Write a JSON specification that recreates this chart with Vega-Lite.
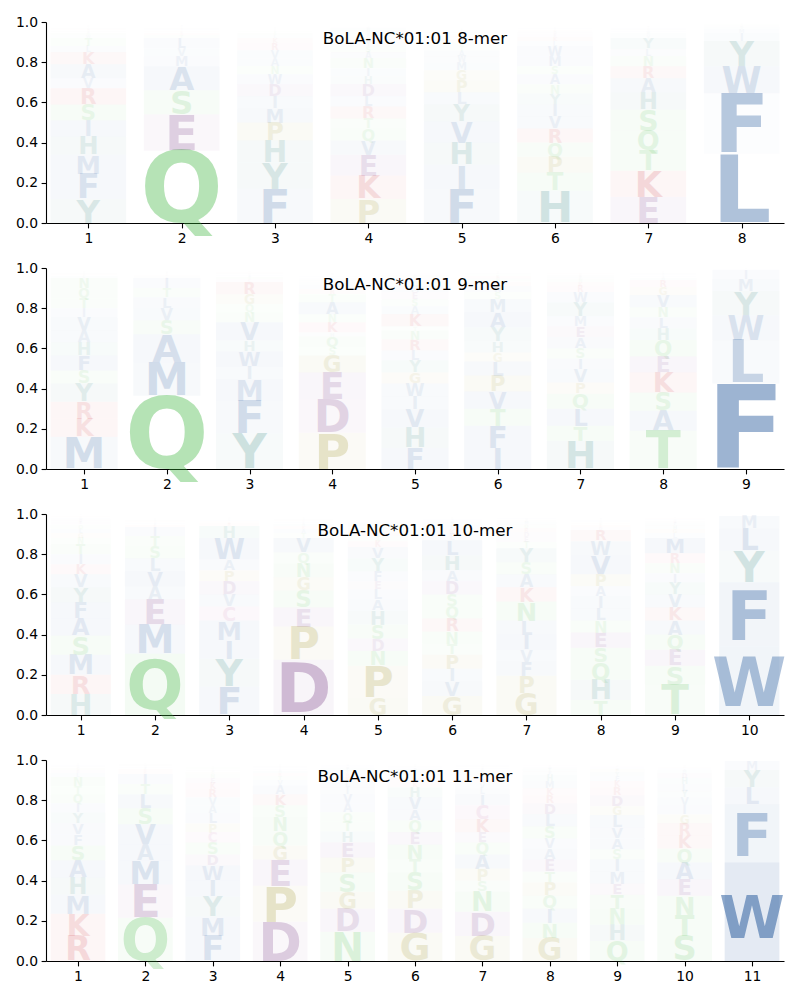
{
"$schema": "https://vega.github.io/schema/vega-lite/v6.json",
"background": "white",
"padding": {"left": 15, "top": 15, "right": 5, "bottom": 3},
"datasets": {"logo": [
{"m":8,"p":1,"a":"Y","f":0.12},{"m":8,"p":1,"a":"F","f":0.125},{"m":8,"p":1,"a":"M","f":0.095},{"m":8,"p":1,"a":"H","f":0.09},{"m":8,"p":1,"a":"I","f":0.08},{"m":8,"p":1,"a":"S","f":0.08},{"m":8,"p":1,"a":"R","f":0.08},{"m":8,"p":1,"a":"V","f":0.05},{"m":8,"p":1,"a":"A","f":0.07},{"m":8,"p":1,"a":"K","f":0.06},{"m":8,"p":1,"a":"L","f":0.03},{"m":8,"p":1,"a":"T","f":0.04},{"m":8,"p":1,"a":"W","f":0.015},{"m":8,"p":1,"a":"N","f":0.012},{"m":8,"p":1,"a":"E","f":0.01},{"m":8,"p":1,"a":"G","f":0.008},{"m":8,"p":1,"a":"D","f":0.007},{"m":8,"p":1,"a":"Q","f":0.005},{"m":8,"p":1,"a":"C","f":0.003},
{"m":8,"p":2,"a":"Q","f":0.36},{"m":8,"p":2,"a":"E","f":0.18},{"m":8,"p":2,"a":"S","f":0.12},{"m":8,"p":2,"a":"A","f":0.12},{"m":8,"p":2,"a":"M","f":0.05},{"m":8,"p":2,"a":"V","f":0.04},{"m":8,"p":2,"a":"L","f":0.05},{"m":8,"p":2,"a":"T","f":0.015},{"m":8,"p":2,"a":"R","f":0.012},{"m":8,"p":2,"a":"K","f":0.01},{"m":8,"p":2,"a":"I","f":0.008},{"m":8,"p":2,"a":"D","f":0.006},{"m":8,"p":2,"a":"H","f":0.005},{"m":8,"p":2,"a":"Y","f":0.004},{"m":8,"p":2,"a":"N","f":0.003},
{"m":8,"p":3,"a":"F","f":0.17},{"m":8,"p":3,"a":"Y","f":0.13},{"m":8,"p":3,"a":"H","f":0.11},{"m":8,"p":3,"a":"P","f":0.09},{"m":8,"p":3,"a":"M","f":0.07},{"m":8,"p":3,"a":"I","f":0.06},{"m":8,"p":3,"a":"D","f":0.06},{"m":8,"p":3,"a":"W","f":0.05},{"m":8,"p":3,"a":"N","f":0.04},{"m":8,"p":3,"a":"A","f":0.04},{"m":8,"p":3,"a":"V","f":0.04},{"m":8,"p":3,"a":"R","f":0.035},{"m":8,"p":3,"a":"K","f":0.025},{"m":8,"p":3,"a":"L","f":0.015},{"m":8,"p":3,"a":"S","f":0.012},{"m":8,"p":3,"a":"T","f":0.01},{"m":8,"p":3,"a":"E","f":0.007},{"m":8,"p":3,"a":"G","f":0.005},{"m":8,"p":3,"a":"Q","f":0.003},
{"m":8,"p":4,"a":"P","f":0.12},{"m":8,"p":4,"a":"K","f":0.115},{"m":8,"p":4,"a":"E","f":0.105},{"m":8,"p":4,"a":"V","f":0.07},{"m":8,"p":4,"a":"Q","f":0.06},{"m":8,"p":4,"a":"T","f":0.05},{"m":8,"p":4,"a":"R","f":0.06},{"m":8,"p":4,"a":"L","f":0.05},{"m":8,"p":4,"a":"D","f":0.06},{"m":8,"p":4,"a":"H","f":0.04},{"m":8,"p":4,"a":"I","f":0.04},{"m":8,"p":4,"a":"N","f":0.05},{"m":8,"p":4,"a":"A","f":0.03},{"m":8,"p":4,"a":"S","f":0.028},{"m":8,"p":4,"a":"Y","f":0.025},{"m":8,"p":4,"a":"G","f":0.022},{"m":8,"p":4,"a":"F","f":0.018},{"m":8,"p":4,"a":"M","f":0.015},{"m":8,"p":4,"a":"W","f":0.012},{"m":8,"p":4,"a":"C","f":0.006},
{"m":8,"p":5,"a":"F","f":0.17},{"m":8,"p":5,"a":"I","f":0.12},{"m":8,"p":5,"a":"H","f":0.11},{"m":8,"p":5,"a":"V","f":0.105},{"m":8,"p":5,"a":"Y","f":0.085},{"m":8,"p":5,"a":"L","f":0.06},{"m":8,"p":5,"a":"P","f":0.06},{"m":8,"p":5,"a":"G","f":0.05},{"m":8,"p":5,"a":"M","f":0.04},{"m":8,"p":5,"a":"W","f":0.03},{"m":8,"p":5,"a":"A","f":0.028},{"m":8,"p":5,"a":"T","f":0.024},{"m":8,"p":5,"a":"S","f":0.02},{"m":8,"p":5,"a":"R","f":0.017},{"m":8,"p":5,"a":"K","f":0.014},{"m":8,"p":5,"a":"N","f":0.011},{"m":8,"p":5,"a":"D","f":0.008},{"m":8,"p":5,"a":"E","f":0.006},{"m":8,"p":5,"a":"Q","f":0.004},{"m":8,"p":5,"a":"C","f":0.003},
{"m":8,"p":6,"a":"H","f":0.16},{"m":8,"p":6,"a":"T","f":0.09},{"m":8,"p":6,"a":"P","f":0.08},{"m":8,"p":6,"a":"Q","f":0.07},{"m":8,"p":6,"a":"R","f":0.07},{"m":8,"p":6,"a":"V","f":0.06},{"m":8,"p":6,"a":"I","f":0.06},{"m":8,"p":6,"a":"Y","f":0.055},{"m":8,"p":6,"a":"N","f":0.045},{"m":8,"p":6,"a":"A","f":0.05},{"m":8,"p":6,"a":"S","f":0.04},{"m":8,"p":6,"a":"M","f":0.05},{"m":8,"p":6,"a":"W","f":0.05},{"m":8,"p":6,"a":"L","f":0.025},{"m":8,"p":6,"a":"K","f":0.02},{"m":8,"p":6,"a":"E","f":0.016},{"m":8,"p":6,"a":"D","f":0.012},{"m":8,"p":6,"a":"G","f":0.01},{"m":8,"p":6,"a":"F","f":0.007},{"m":8,"p":6,"a":"C","f":0.004},
{"m":8,"p":7,"a":"E","f":0.13},{"m":8,"p":7,"a":"K","f":0.13},{"m":8,"p":7,"a":"T","f":0.1},{"m":8,"p":7,"a":"Q","f":0.1},{"m":8,"p":7,"a":"S","f":0.105},{"m":8,"p":7,"a":"H","f":0.085},{"m":8,"p":7,"a":"A","f":0.07},{"m":8,"p":7,"a":"R","f":0.06},{"m":8,"p":7,"a":"N","f":0.05},{"m":8,"p":7,"a":"L","f":0.035},{"m":8,"p":7,"a":"Y","f":0.055},{"m":8,"p":7,"a":"V","f":0.015},{"m":8,"p":7,"a":"M","f":0.012},{"m":8,"p":7,"a":"W","f":0.01},{"m":8,"p":7,"a":"D","f":0.008},{"m":8,"p":7,"a":"I","f":0.006},{"m":8,"p":7,"a":"G","f":0.004},{"m":8,"p":7,"a":"F","f":0.003},
{"m":8,"p":8,"a":"L","f":0.345},{"m":8,"p":8,"a":"F","f":0.3},{"m":8,"p":8,"a":"W","f":0.135},{"m":8,"p":8,"a":"Y","f":0.125},{"m":8,"p":8,"a":"I","f":0.04},{"m":8,"p":8,"a":"M","f":0.02},{"m":8,"p":8,"a":"V","f":0.012},{"m":8,"p":8,"a":"H","f":0.008},{"m":8,"p":8,"a":"T","f":0.005},{"m":8,"p":8,"a":"A","f":0.004},
{"m":9,"p":1,"a":"M","f":0.16},{"m":9,"p":1,"a":"K","f":0.09},{"m":9,"p":1,"a":"R","f":0.085},{"m":9,"p":1,"a":"Y","f":0.09},{"m":9,"p":1,"a":"S","f":0.065},{"m":9,"p":1,"a":"F","f":0.075},{"m":9,"p":1,"a":"H","f":0.065},{"m":9,"p":1,"a":"A","f":0.06},{"m":9,"p":1,"a":"V","f":0.065},{"m":9,"p":1,"a":"I","f":0.045},{"m":9,"p":1,"a":"T","f":0.05},{"m":9,"p":1,"a":"Q","f":0.05},{"m":9,"p":1,"a":"N","f":0.05},{"m":9,"p":1,"a":"L","f":0.012},{"m":9,"p":1,"a":"G","f":0.008},{"m":9,"p":1,"a":"E","f":0.006},{"m":9,"p":1,"a":"D","f":0.004},
{"m":9,"p":2,"a":"Q","f":0.365},{"m":9,"p":2,"a":"M","f":0.165},{"m":9,"p":2,"a":"A","f":0.14},{"m":9,"p":2,"a":"S","f":0.07},{"m":9,"p":2,"a":"V","f":0.06},{"m":9,"p":2,"a":"L","f":0.055},{"m":9,"p":2,"a":"T","f":0.045},{"m":9,"p":2,"a":"I","f":0.05},{"m":9,"p":2,"a":"E","f":0.01},{"m":9,"p":2,"a":"K","f":0.008},{"m":9,"p":2,"a":"R","f":0.006},{"m":9,"p":2,"a":"F","f":0.004},{"m":9,"p":2,"a":"H","f":0.003},
{"m":9,"p":3,"a":"Y","f":0.175},{"m":9,"p":3,"a":"F","f":0.165},{"m":9,"p":3,"a":"M","f":0.105},{"m":9,"p":3,"a":"I","f":0.065},{"m":9,"p":3,"a":"W","f":0.075},{"m":9,"p":3,"a":"H","f":0.055},{"m":9,"p":3,"a":"V","f":0.09},{"m":9,"p":3,"a":"N","f":0.05},{"m":9,"p":3,"a":"Q","f":0.04},{"m":9,"p":3,"a":"G","f":0.05},{"m":9,"p":3,"a":"R","f":0.06},{"m":9,"p":3,"a":"C","f":0.015},{"m":9,"p":3,"a":"S","f":0.012},{"m":9,"p":3,"a":"A","f":0.01},{"m":9,"p":3,"a":"D","f":0.008},{"m":9,"p":3,"a":"K","f":0.005},
{"m":9,"p":4,"a":"P","f":0.18},{"m":9,"p":4,"a":"D","f":0.165},{"m":9,"p":4,"a":"E","f":0.135},{"m":9,"p":4,"a":"G","f":0.085},{"m":9,"p":4,"a":"S","f":0.04},{"m":9,"p":4,"a":"Q","f":0.055},{"m":9,"p":4,"a":"H","f":0.02},{"m":9,"p":4,"a":"K","f":0.05},{"m":9,"p":4,"a":"N","f":0.04},{"m":9,"p":4,"a":"A","f":0.06},{"m":9,"p":4,"a":"T","f":0.04},{"m":9,"p":4,"a":"R","f":0.025},{"m":9,"p":4,"a":"V","f":0.02},{"m":9,"p":4,"a":"L","f":0.016},{"m":9,"p":4,"a":"I","f":0.012},{"m":9,"p":4,"a":"M","f":0.01},{"m":9,"p":4,"a":"F","f":0.008},{"m":9,"p":4,"a":"W","f":0.006},{"m":9,"p":4,"a":"Y","f":0.004},
{"m":9,"p":5,"a":"F","f":0.105},{"m":9,"p":5,"a":"H","f":0.1},{"m":9,"p":5,"a":"V","f":0.09},{"m":9,"p":5,"a":"I","f":0.065},{"m":9,"p":5,"a":"W","f":0.065},{"m":9,"p":5,"a":"G","f":0.055},{"m":9,"p":5,"a":"Y","f":0.06},{"m":9,"p":5,"a":"L","f":0.05},{"m":9,"p":5,"a":"R","f":0.055},{"m":9,"p":5,"a":"N","f":0.045},{"m":9,"p":5,"a":"T","f":0.02},{"m":9,"p":5,"a":"K","f":0.06},{"m":9,"p":5,"a":"A","f":0.04},{"m":9,"p":5,"a":"S","f":0.035},{"m":9,"p":5,"a":"E","f":0.035},{"m":9,"p":5,"a":"M","f":0.03},{"m":9,"p":5,"a":"Q","f":0.025},{"m":9,"p":5,"a":"D","f":0.017},{"m":9,"p":5,"a":"P","f":0.013},{"m":9,"p":5,"a":"C","f":0.01},
{"m":9,"p":6,"a":"I","f":0.105},{"m":9,"p":6,"a":"F","f":0.11},{"m":9,"p":6,"a":"T","f":0.085},{"m":9,"p":6,"a":"V","f":0.085},{"m":9,"p":6,"a":"P","f":0.08},{"m":9,"p":6,"a":"L","f":0.07},{"m":9,"p":6,"a":"G","f":0.045},{"m":9,"p":6,"a":"H","f":0.055},{"m":9,"p":6,"a":"Y","f":0.07},{"m":9,"p":6,"a":"A","f":0.075},{"m":9,"p":6,"a":"M","f":0.065},{"m":9,"p":6,"a":"S","f":0.035},{"m":9,"p":6,"a":"W","f":0.03},{"m":9,"p":6,"a":"R","f":0.022},{"m":9,"p":6,"a":"N","f":0.016},{"m":9,"p":6,"a":"K","f":0.012},{"m":9,"p":6,"a":"Q","f":0.01},{"m":9,"p":6,"a":"E","f":0.008},{"m":9,"p":6,"a":"D","f":0.005},
{"m":9,"p":7,"a":"H","f":0.14},{"m":9,"p":7,"a":"T","f":0.075},{"m":9,"p":7,"a":"L","f":0.085},{"m":9,"p":7,"a":"Q","f":0.075},{"m":9,"p":7,"a":"P","f":0.055},{"m":9,"p":7,"a":"V","f":0.065},{"m":9,"p":7,"a":"I","f":0.055},{"m":9,"p":7,"a":"S","f":0.05},{"m":9,"p":7,"a":"A","f":0.055},{"m":9,"p":7,"a":"E","f":0.055},{"m":9,"p":7,"a":"M","f":0.05},{"m":9,"p":7,"a":"Y","f":0.07},{"m":9,"p":7,"a":"W","f":0.05},{"m":9,"p":7,"a":"R","f":0.03},{"m":9,"p":7,"a":"K","f":0.02},{"m":9,"p":7,"a":"N","f":0.016},{"m":9,"p":7,"a":"F","f":0.012},{"m":9,"p":7,"a":"D","f":0.01},{"m":9,"p":7,"a":"G","f":0.008},
{"m":9,"p":8,"a":"T","f":0.19},{"m":9,"p":8,"a":"A","f":0.1},{"m":9,"p":8,"a":"S","f":0.09},{"m":9,"p":8,"a":"K","f":0.1},{"m":9,"p":8,"a":"E","f":0.08},{"m":9,"p":8,"a":"Q","f":0.08},{"m":9,"p":8,"a":"H","f":0.06},{"m":9,"p":8,"a":"L","f":0.055},{"m":9,"p":8,"a":"N","f":0.05},{"m":9,"p":8,"a":"V","f":0.06},{"m":9,"p":8,"a":"G","f":0.04},{"m":9,"p":8,"a":"R","f":0.035},{"m":9,"p":8,"a":"M","f":0.012},{"m":9,"p":8,"a":"I","f":0.01},{"m":9,"p":8,"a":"F","f":0.008},{"m":9,"p":8,"a":"D","f":0.006},{"m":9,"p":8,"a":"Y","f":0.004},
{"m":9,"p":9,"a":"F","f":0.425},{"m":9,"p":9,"a":"L","f":0.215},{"m":9,"p":9,"a":"W","f":0.125},{"m":9,"p":9,"a":"Y","f":0.12},{"m":9,"p":9,"a":"M","f":0.06},{"m":9,"p":9,"a":"I","f":0.045},{"m":9,"p":9,"a":"V","f":0.005},
{"m":10,"p":1,"a":"H","f":0.105},{"m":10,"p":1,"a":"R","f":0.095},{"m":10,"p":1,"a":"M","f":0.1},{"m":10,"p":1,"a":"S","f":0.095},{"m":10,"p":1,"a":"A","f":0.085},{"m":10,"p":1,"a":"F","f":0.08},{"m":10,"p":1,"a":"Y","f":0.075},{"m":10,"p":1,"a":"V","f":0.065},{"m":10,"p":1,"a":"K","f":0.05},{"m":10,"p":1,"a":"I","f":0.05},{"m":10,"p":1,"a":"T","f":0.05},{"m":10,"p":1,"a":"N","f":0.03},{"m":10,"p":1,"a":"G","f":0.025},{"m":10,"p":1,"a":"L","f":0.022},{"m":10,"p":1,"a":"Q","f":0.02},{"m":10,"p":1,"a":"E","f":0.015},{"m":10,"p":1,"a":"D","f":0.012},{"m":10,"p":1,"a":"W","f":0.01},{"m":10,"p":1,"a":"P","f":0.007},{"m":10,"p":1,"a":"C","f":0.004},
{"m":10,"p":2,"a":"Q","f":0.305},{"m":10,"p":2,"a":"M","f":0.145},{"m":10,"p":2,"a":"E","f":0.125},{"m":10,"p":2,"a":"A","f":0.065},{"m":10,"p":2,"a":"V","f":0.075},{"m":10,"p":2,"a":"L","f":0.065},{"m":10,"p":2,"a":"S","f":0.06},{"m":10,"p":2,"a":"T","f":0.05},{"m":10,"p":2,"a":"I","f":0.045},{"m":10,"p":2,"a":"K","f":0.012},{"m":10,"p":2,"a":"F","f":0.01},{"m":10,"p":2,"a":"R","f":0.008},{"m":10,"p":2,"a":"H","f":0.006},{"m":10,"p":2,"a":"D","f":0.004},
{"m":10,"p":3,"a":"F","f":0.14},{"m":10,"p":3,"a":"Y","f":0.14},{"m":10,"p":3,"a":"I","f":0.095},{"m":10,"p":3,"a":"M","f":0.095},{"m":10,"p":3,"a":"C","f":0.07},{"m":10,"p":3,"a":"V","f":0.06},{"m":10,"p":3,"a":"D","f":0.065},{"m":10,"p":3,"a":"P","f":0.055},{"m":10,"p":3,"a":"A","f":0.055},{"m":10,"p":3,"a":"W","f":0.105},{"m":10,"p":3,"a":"H","f":0.06},{"m":10,"p":3,"a":"R","f":0.015},{"m":10,"p":3,"a":"K","f":0.01},{"m":10,"p":3,"a":"L","f":0.008},{"m":10,"p":3,"a":"E","f":0.005},{"m":10,"p":3,"a":"S","f":0.003},
{"m":10,"p":4,"a":"D","f":0.275},{"m":10,"p":4,"a":"P","f":0.165},{"m":10,"p":4,"a":"E","f":0.095},{"m":10,"p":4,"a":"S","f":0.085},{"m":10,"p":4,"a":"G","f":0.065},{"m":10,"p":4,"a":"N","f":0.07},{"m":10,"p":4,"a":"Q","f":0.055},{"m":10,"p":4,"a":"V","f":0.07},{"m":10,"p":4,"a":"T","f":0.025},{"m":10,"p":4,"a":"A","f":0.02},{"m":10,"p":4,"a":"K","f":0.015},{"m":10,"p":4,"a":"H","f":0.012},{"m":10,"p":4,"a":"L","f":0.01},{"m":10,"p":4,"a":"R","f":0.008},{"m":10,"p":4,"a":"Y","f":0.006},{"m":10,"p":4,"a":"I","f":0.004},
{"m":10,"p":5,"a":"G","f":0.085},{"m":10,"p":5,"a":"P","f":0.16},{"m":10,"p":5,"a":"N","f":0.075},{"m":10,"p":5,"a":"D","f":0.06},{"m":10,"p":5,"a":"S","f":0.07},{"m":10,"p":5,"a":"H","f":0.07},{"m":10,"p":5,"a":"A","f":0.055},{"m":10,"p":5,"a":"L","f":0.05},{"m":10,"p":5,"a":"E","f":0.04},{"m":10,"p":5,"a":"F","f":0.05},{"m":10,"p":5,"a":"Y","f":0.065},{"m":10,"p":5,"a":"V","f":0.055},{"m":10,"p":5,"a":"K","f":0.03},{"m":10,"p":5,"a":"T","f":0.025},{"m":10,"p":5,"a":"R","f":0.02},{"m":10,"p":5,"a":"Q","f":0.018},{"m":10,"p":5,"a":"I","f":0.015},{"m":10,"p":5,"a":"M","f":0.012},{"m":10,"p":5,"a":"W","f":0.008},{"m":10,"p":5,"a":"C","f":0.005},
{"m":10,"p":6,"a":"G","f":0.095},{"m":10,"p":6,"a":"V","f":0.07},{"m":10,"p":6,"a":"I","f":0.065},{"m":10,"p":6,"a":"P","f":0.07},{"m":10,"p":6,"a":"T","f":0.055},{"m":10,"p":6,"a":"N","f":0.06},{"m":10,"p":6,"a":"R","f":0.065},{"m":10,"p":6,"a":"Q","f":0.06},{"m":10,"p":6,"a":"S","f":0.06},{"m":10,"p":6,"a":"D","f":0.065},{"m":10,"p":6,"a":"A","f":0.055},{"m":10,"p":6,"a":"H","f":0.075},{"m":10,"p":6,"a":"L","f":0.075},{"m":10,"p":6,"a":"E","f":0.03},{"m":10,"p":6,"a":"K","f":0.025},{"m":10,"p":6,"a":"F","f":0.02},{"m":10,"p":6,"a":"Y","f":0.015},{"m":10,"p":6,"a":"M","f":0.01},{"m":10,"p":6,"a":"W","f":0.006},{"m":10,"p":6,"a":"C","f":0.004},
{"m":10,"p":7,"a":"G","f":0.11},{"m":10,"p":7,"a":"P","f":0.085},{"m":10,"p":7,"a":"F","f":0.07},{"m":10,"p":7,"a":"V","f":0.06},{"m":10,"p":7,"a":"I","f":0.075},{"m":10,"p":7,"a":"L","f":0.07},{"m":10,"p":7,"a":"N","f":0.095},{"m":10,"p":7,"a":"K","f":0.07},{"m":10,"p":7,"a":"A","f":0.065},{"m":10,"p":7,"a":"S","f":0.06},{"m":10,"p":7,"a":"Y","f":0.07},{"m":10,"p":7,"a":"T","f":0.03},{"m":10,"p":7,"a":"E","f":0.025},{"m":10,"p":7,"a":"D","f":0.025},{"m":10,"p":7,"a":"R","f":0.02},{"m":10,"p":7,"a":"Q","f":0.018},{"m":10,"p":7,"a":"M","f":0.015},{"m":10,"p":7,"a":"H","f":0.01},{"m":10,"p":7,"a":"W","f":0.007},
{"m":10,"p":8,"a":"T","f":0.075},{"m":10,"p":8,"a":"H","f":0.1},{"m":10,"p":8,"a":"Q","f":0.085},{"m":10,"p":8,"a":"S","f":0.075},{"m":10,"p":8,"a":"E","f":0.075},{"m":10,"p":8,"a":"N","f":0.06},{"m":10,"p":8,"a":"L","f":0.06},{"m":10,"p":8,"a":"I","f":0.06},{"m":10,"p":8,"a":"A","f":0.05},{"m":10,"p":8,"a":"P","f":0.06},{"m":10,"p":8,"a":"V","f":0.095},{"m":10,"p":8,"a":"W","f":0.07},{"m":10,"p":8,"a":"R","f":0.055},{"m":10,"p":8,"a":"D","f":0.015},{"m":10,"p":8,"a":"K","f":0.012},{"m":10,"p":8,"a":"G","f":0.01},{"m":10,"p":8,"a":"M","f":0.008},{"m":10,"p":8,"a":"F","f":0.006},{"m":10,"p":8,"a":"Y","f":0.005},{"m":10,"p":8,"a":"C","f":0.003},
{"m":10,"p":9,"a":"T","f":0.15},{"m":10,"p":9,"a":"S","f":0.095},{"m":10,"p":9,"a":"E","f":0.08},{"m":10,"p":9,"a":"Q","f":0.075},{"m":10,"p":9,"a":"A","f":0.07},{"m":10,"p":9,"a":"K","f":0.065},{"m":10,"p":9,"a":"V","f":0.065},{"m":10,"p":9,"a":"Y","f":0.06},{"m":10,"p":9,"a":"I","f":0.045},{"m":10,"p":9,"a":"N","f":0.05},{"m":10,"p":9,"a":"R","f":0.05},{"m":10,"p":9,"a":"M","f":0.075},{"m":10,"p":9,"a":"L","f":0.025},{"m":10,"p":9,"a":"G","f":0.02},{"m":10,"p":9,"a":"H","f":0.018},{"m":10,"p":9,"a":"F","f":0.015},{"m":10,"p":9,"a":"D","f":0.01},{"m":10,"p":9,"a":"W","f":0.007},{"m":10,"p":9,"a":"P","f":0.005},
{"m":10,"p":10,"a":"W","f":0.34},{"m":10,"p":10,"a":"F","f":0.32},{"m":10,"p":10,"a":"Y","f":0.158},{"m":10,"p":10,"a":"L","f":0.109},{"m":10,"p":10,"a":"M","f":0.063},
{"m":11,"p":1,"a":"R","f":0.125},{"m":11,"p":1,"a":"K","f":0.11},{"m":11,"p":1,"a":"M","f":0.095},{"m":11,"p":1,"a":"H","f":0.085},{"m":11,"p":1,"a":"A","f":0.085},{"m":11,"p":1,"a":"S","f":0.075},{"m":11,"p":1,"a":"F","f":0.055},{"m":11,"p":1,"a":"V","f":0.055},{"m":11,"p":1,"a":"Y","f":0.055},{"m":11,"p":1,"a":"I","f":0.045},{"m":11,"p":1,"a":"Q","f":0.045},{"m":11,"p":1,"a":"T","f":0.04},{"m":11,"p":1,"a":"N","f":0.045},{"m":11,"p":1,"a":"L","f":0.02},{"m":11,"p":1,"a":"E","f":0.015},{"m":11,"p":1,"a":"G","f":0.012},{"m":11,"p":1,"a":"D","f":0.008},{"m":11,"p":1,"a":"W","f":0.006},{"m":11,"p":1,"a":"P","f":0.004},
{"m":11,"p":2,"a":"Q","f":0.215},{"m":11,"p":2,"a":"E","f":0.165},{"m":11,"p":2,"a":"M","f":0.12},{"m":11,"p":2,"a":"A","f":0.08},{"m":11,"p":2,"a":"V","f":0.1},{"m":11,"p":2,"a":"S","f":0.08},{"m":11,"p":2,"a":"L","f":0.07},{"m":11,"p":2,"a":"T","f":0.05},{"m":11,"p":2,"a":"I","f":0.05},{"m":11,"p":2,"a":"K","f":0.015},{"m":11,"p":2,"a":"R","f":0.012},{"m":11,"p":2,"a":"F","f":0.01},{"m":11,"p":2,"a":"H","f":0.008},{"m":11,"p":2,"a":"D","f":0.005},
{"m":11,"p":3,"a":"F","f":0.125},{"m":11,"p":3,"a":"M","f":0.095},{"m":11,"p":3,"a":"Y","f":0.1},{"m":11,"p":3,"a":"I","f":0.08},{"m":11,"p":3,"a":"W","f":0.075},{"m":11,"p":3,"a":"D","f":0.055},{"m":11,"p":3,"a":"S","f":0.06},{"m":11,"p":3,"a":"C","f":0.05},{"m":11,"p":3,"a":"P","f":0.045},{"m":11,"p":3,"a":"L","f":0.05},{"m":11,"p":3,"a":"A","f":0.04},{"m":11,"p":3,"a":"V","f":0.04},{"m":11,"p":3,"a":"R","f":0.04},{"m":11,"p":3,"a":"K","f":0.03},{"m":11,"p":3,"a":"E","f":0.025},{"m":11,"p":3,"a":"N","f":0.02},{"m":11,"p":3,"a":"G","f":0.012},{"m":11,"p":3,"a":"H","f":0.01},{"m":11,"p":3,"a":"T","f":0.008},{"m":11,"p":3,"a":"Q","f":0.005},
{"m":11,"p":4,"a":"D","f":0.195},{"m":11,"p":4,"a":"P","f":0.18},{"m":11,"p":4,"a":"E","f":0.13},{"m":11,"p":4,"a":"G","f":0.07},{"m":11,"p":4,"a":"Q","f":0.07},{"m":11,"p":4,"a":"N","f":0.07},{"m":11,"p":4,"a":"S","f":0.06},{"m":11,"p":4,"a":"K","f":0.055},{"m":11,"p":4,"a":"A","f":0.045},{"m":11,"p":4,"a":"V","f":0.025},{"m":11,"p":4,"a":"T","f":0.02},{"m":11,"p":4,"a":"R","f":0.015},{"m":11,"p":4,"a":"H","f":0.012},{"m":11,"p":4,"a":"L","f":0.01},{"m":11,"p":4,"a":"I","f":0.008},{"m":11,"p":4,"a":"Y","f":0.006},{"m":11,"p":4,"a":"M","f":0.004},
{"m":11,"p":5,"a":"N","f":0.145},{"m":11,"p":5,"a":"D","f":0.115},{"m":11,"p":5,"a":"G","f":0.085},{"m":11,"p":5,"a":"S","f":0.095},{"m":11,"p":5,"a":"P","f":0.075},{"m":11,"p":5,"a":"E","f":0.075},{"m":11,"p":5,"a":"H","f":0.055},{"m":11,"p":5,"a":"T","f":0.05},{"m":11,"p":5,"a":"Q","f":0.045},{"m":11,"p":5,"a":"A","f":0.045},{"m":11,"p":5,"a":"V","f":0.045},{"m":11,"p":5,"a":"I","f":0.035},{"m":11,"p":5,"a":"L","f":0.03},{"m":11,"p":5,"a":"K","f":0.02},{"m":11,"p":5,"a":"R","f":0.018},{"m":11,"p":5,"a":"Y","f":0.015},{"m":11,"p":5,"a":"F","f":0.012},{"m":11,"p":5,"a":"M","f":0.01},{"m":11,"p":5,"a":"W","f":0.006},
{"m":11,"p":6,"a":"G","f":0.14},{"m":11,"p":6,"a":"D","f":0.12},{"m":11,"p":6,"a":"P","f":0.09},{"m":11,"p":6,"a":"S","f":0.09},{"m":11,"p":6,"a":"T","f":0.065},{"m":11,"p":6,"a":"N","f":0.075},{"m":11,"p":6,"a":"E","f":0.06},{"m":11,"p":6,"a":"Q","f":0.06},{"m":11,"p":6,"a":"A","f":0.055},{"m":11,"p":6,"a":"V","f":0.06},{"m":11,"p":6,"a":"H","f":0.05},{"m":11,"p":6,"a":"K","f":0.025},{"m":11,"p":6,"a":"R","f":0.02},{"m":11,"p":6,"a":"I","f":0.018},{"m":11,"p":6,"a":"L","f":0.015},{"m":11,"p":6,"a":"M","f":0.012},{"m":11,"p":6,"a":"F","f":0.01},{"m":11,"p":6,"a":"Y","f":0.008},{"m":11,"p":6,"a":"W","f":0.005},
{"m":11,"p":7,"a":"G","f":0.125},{"m":11,"p":7,"a":"D","f":0.12},{"m":11,"p":7,"a":"N","f":0.1},{"m":11,"p":7,"a":"S","f":0.055},{"m":11,"p":7,"a":"P","f":0.06},{"m":11,"p":7,"a":"A","f":0.07},{"m":11,"p":7,"a":"Q","f":0.06},{"m":11,"p":7,"a":"E","f":0.05},{"m":11,"p":7,"a":"K","f":0.065},{"m":11,"p":7,"a":"C","f":0.07},{"m":11,"p":7,"a":"I","f":0.055},{"m":11,"p":7,"a":"L","f":0.03},{"m":11,"p":7,"a":"V","f":0.025},{"m":11,"p":7,"a":"R","f":0.022},{"m":11,"p":7,"a":"H","f":0.018},{"m":11,"p":7,"a":"T","f":0.015},{"m":11,"p":7,"a":"M","f":0.012},{"m":11,"p":7,"a":"F","f":0.01},{"m":11,"p":7,"a":"Y","f":0.008},{"m":11,"p":7,"a":"W","f":0.005},
{"m":11,"p":8,"a":"G","f":0.115},{"m":11,"p":8,"a":"N","f":0.075},{"m":11,"p":8,"a":"I","f":0.07},{"m":11,"p":8,"a":"Q","f":0.065},{"m":11,"p":8,"a":"P","f":0.065},{"m":11,"p":8,"a":"T","f":0.055},{"m":11,"p":8,"a":"E","f":0.06},{"m":11,"p":8,"a":"A","f":0.055},{"m":11,"p":8,"a":"V","f":0.05},{"m":11,"p":8,"a":"S","f":0.06},{"m":11,"p":8,"a":"L","f":0.06},{"m":11,"p":8,"a":"D","f":0.055},{"m":11,"p":8,"a":"R","f":0.04},{"m":11,"p":8,"a":"K","f":0.035},{"m":11,"p":8,"a":"M","f":0.035},{"m":11,"p":8,"a":"H","f":0.03},{"m":11,"p":8,"a":"F","f":0.018},{"m":11,"p":8,"a":"Y","f":0.015},{"m":11,"p":8,"a":"W","f":0.01},{"m":11,"p":8,"a":"C","f":0.008},
{"m":11,"p":9,"a":"Q","f":0.1},{"m":11,"p":9,"a":"H","f":0.08},{"m":11,"p":9,"a":"N","f":0.08},{"m":11,"p":9,"a":"T","f":0.07},{"m":11,"p":9,"a":"E","f":0.055},{"m":11,"p":9,"a":"M","f":0.06},{"m":11,"p":9,"a":"I","f":0.06},{"m":11,"p":9,"a":"S","f":0.05},{"m":11,"p":9,"a":"A","f":0.055},{"m":11,"p":9,"a":"V","f":0.055},{"m":11,"p":9,"a":"L","f":0.06},{"m":11,"p":9,"a":"G","f":0.045},{"m":11,"p":9,"a":"D","f":0.055},{"m":11,"p":9,"a":"R","f":0.04},{"m":11,"p":9,"a":"K","f":0.03},{"m":11,"p":9,"a":"F","f":0.025},{"m":11,"p":9,"a":"Y","f":0.02},{"m":11,"p":9,"a":"P","f":0.015},{"m":11,"p":9,"a":"W","f":0.01},{"m":11,"p":9,"a":"C","f":0.006},
{"m":11,"p":10,"a":"S","f":0.125},{"m":11,"p":10,"a":"T","f":0.105},{"m":11,"p":10,"a":"N","f":0.095},{"m":11,"p":10,"a":"E","f":0.08},{"m":11,"p":10,"a":"A","f":0.085},{"m":11,"p":10,"a":"Q","f":0.07},{"m":11,"p":10,"a":"K","f":0.065},{"m":11,"p":10,"a":"R","f":0.06},{"m":11,"p":10,"a":"G","f":0.045},{"m":11,"p":10,"a":"I","f":0.045},{"m":11,"p":10,"a":"V","f":0.04},{"m":11,"p":10,"a":"Y","f":0.03},{"m":11,"p":10,"a":"L","f":0.035},{"m":11,"p":10,"a":"H","f":0.03},{"m":11,"p":10,"a":"D","f":0.025},{"m":11,"p":10,"a":"M","f":0.015},{"m":11,"p":10,"a":"F","f":0.01},{"m":11,"p":10,"a":"P","f":0.008},{"m":11,"p":10,"a":"W","f":0.005},
{"m":11,"p":11,"a":"W","f":0.49},{"m":11,"p":11,"a":"F","f":0.29},{"m":11,"p":11,"a":"L","f":0.085},{"m":11,"p":11,"a":"Y","f":0.085},{"m":11,"p":11,"a":"M","f":0.045}
]},
"data": {"name": "logo"},
"spacing": 15,
"resolve": {"scale": {"size": "independent", "opacity": "independent"}},
"vconcat": [
{
"width": 738, "height": 201,
"title": {"text": "BoLA-NC*01:01 8-mer", "offset": 0, "dy": 32.5},
"transform": [{"filter": "datum.m == 8"}, {"window": [{"op": "row_number", "as": "i"}]}],
"encoding": {
"x": {"field": "p", "type": "quantitative", "scale": {"domain": [0.6, 8.4], "nice": false, "zero": false}, "axis": {"values": [1,2,3,4,5,6,7,8], "format": "d", "title": null}},
"order": {"field": "i", "type": "quantitative"},
"color": {"field": "a", "type": "nominal", "legend": null, "scale": {"domain": ["A","C","D","E","F","G","H","I","K","L","M","N","P","Q","R","S","T","V","W","Y"], "range": ["#195097","#b03c8c","#662175","#662175","#195097","#8a7d00","#0f7068","#195097","#c01420","#195097","#195097","#37b337","#8a7d00","#37b337","#c01420","#37b337","#37b337","#195097","#195097","#0f7068"]}}
},
"layer": [
{"mark": {"type": "bar", "width": 75.7},
 "encoding": {
 "y": {"field": "f", "type": "quantitative", "stack": "zero", "scale": {"domain": [0, 1], "nice": false}, "axis": {"values": [0,0.2,0.4,0.6,0.8,1], "format": ".1f", "title": null}},
 "opacity": {"field": "f", "type": "quantitative", "legend": null, "scale": {"domain": [0, 0.08, 0.2, 0.35], "range": [0, 0.04, 0.035, 0], "clamp": true}}}},
{"mark": {"type": "text", "font": "DejaVu Sans", "fontWeight": "bold", "align": "center", "baseline": "middle"},
 "encoding": {
 "y": {"field": "f", "type": "quantitative", "stack": "zero", "bandPosition": 0.42, "scale": {"domain": [0, 1], "nice": false}, "axis": {"values": [0,0.2,0.4,0.6,0.8,1], "format": ".1f", "title": null}},
 "text": {"field": "a"},
 "opacity": {"field": "f", "type": "quantitative", "legend": null, "scale": {"domain": [0, 1], "range": [0, 1]}},
 "size": {"field": "f", "type": "quantitative", "legend": null, "scale": {"domain": [0, 0.4], "range": [0, 108], "clamp": true}}}}
],
"resolve": {"scale": {"opacity": "independent"}}
},
{
"width": 738, "height": 201,
"title": {"text": "BoLA-NC*01:01 9-mer", "offset": 0, "dy": 32.5},
"transform": [{"filter": "datum.m == 9"}, {"window": [{"op": "row_number", "as": "i"}]}],
"encoding": {
"x": {"field": "p", "type": "quantitative", "scale": {"domain": [0.6, 9.4], "nice": false, "zero": false}, "axis": {"values": [1,2,3,4,5,6,7,8,9], "format": "d", "title": null}},
"order": {"field": "i", "type": "quantitative"},
"color": {"field": "a", "type": "nominal", "legend": null, "scale": {"domain": ["A","C","D","E","F","G","H","I","K","L","M","N","P","Q","R","S","T","V","W","Y"], "range": ["#195097","#b03c8c","#662175","#662175","#195097","#8a7d00","#0f7068","#195097","#c01420","#195097","#195097","#37b337","#8a7d00","#37b337","#c01420","#37b337","#37b337","#195097","#195097","#0f7068"]}}
},
"layer": [
{"mark": {"type": "bar", "width": 67.1},
 "encoding": {
 "y": {"field": "f", "type": "quantitative", "stack": "zero", "scale": {"domain": [0, 1], "nice": false}, "axis": {"values": [0,0.2,0.4,0.6,0.8,1], "format": ".1f", "title": null}},
 "opacity": {"field": "f", "type": "quantitative", "legend": null, "scale": {"domain": [0, 0.08, 0.2, 0.35], "range": [0, 0.04, 0.035, 0], "clamp": true}}}},
{"mark": {"type": "text", "font": "DejaVu Sans", "fontWeight": "bold", "align": "center", "baseline": "middle"},
 "encoding": {
 "y": {"field": "f", "type": "quantitative", "stack": "zero", "bandPosition": 0.42, "scale": {"domain": [0, 1], "nice": false}, "axis": {"values": [0,0.2,0.4,0.6,0.8,1], "format": ".1f", "title": null}},
 "text": {"field": "a"},
 "opacity": {"field": "f", "type": "quantitative", "legend": null, "scale": {"domain": [0, 1], "range": [0, 1]}},
 "size": {"field": "f", "type": "quantitative", "legend": null, "scale": {"domain": [0, 0.45], "range": [0, 121.5], "clamp": true}}}}
],
"resolve": {"scale": {"opacity": "independent"}}
},
{
"width": 738, "height": 201,
"title": {"text": "BoLA-NC*01:01 10-mer", "offset": 0, "dy": 32.5},
"transform": [{"filter": "datum.m == 10"}, {"window": [{"op": "row_number", "as": "i"}]}],
"encoding": {
"x": {"field": "p", "type": "quantitative", "scale": {"domain": [0.6, 10.4], "nice": false, "zero": false}, "axis": {"values": [1,2,3,4,5,6,7,8,9,10], "format": "d", "title": null}},
"order": {"field": "i", "type": "quantitative"},
"color": {"field": "a", "type": "nominal", "legend": null, "scale": {"domain": ["A","C","D","E","F","G","H","I","K","L","M","N","P","Q","R","S","T","V","W","Y"], "range": ["#195097","#b03c8c","#662175","#662175","#195097","#8a7d00","#0f7068","#195097","#c01420","#195097","#195097","#37b337","#8a7d00","#37b337","#c01420","#37b337","#37b337","#195097","#195097","#0f7068"]}}
},
"layer": [
{"mark": {"type": "bar", "width": 60.2},
 "encoding": {
 "y": {"field": "f", "type": "quantitative", "stack": "zero", "scale": {"domain": [0, 1], "nice": false}, "axis": {"values": [0,0.2,0.4,0.6,0.8,1], "format": ".1f", "title": null}},
 "opacity": {"field": "f", "type": "quantitative", "legend": null, "scale": {"domain": [0, 0.08, 0.2, 0.34], "range": [0, 0.04, 0.035, 0.06], "clamp": true}}}},
{"mark": {"type": "text", "font": "DejaVu Sans", "fontWeight": "bold", "align": "center", "baseline": "middle"},
 "encoding": {
 "y": {"field": "f", "type": "quantitative", "stack": "zero", "bandPosition": 0.42, "scale": {"domain": [0, 1], "nice": false}, "axis": {"values": [0,0.2,0.4,0.6,0.8,1], "format": ".1f", "title": null}},
 "text": {"field": "a"},
 "opacity": {"field": "f", "type": "quantitative", "legend": null, "scale": {"domain": [0, 1], "range": [0, 1]}},
 "size": {"field": "f", "type": "quantitative", "legend": null, "scale": {"domain": [0, 0.25], "range": [0, 67.5], "clamp": true}}}}
],
"resolve": {"scale": {"opacity": "independent"}}
},
{
"width": 738, "height": 201,
"title": {"text": "BoLA-NC*01:01 11-mer", "offset": 0, "dy": 32.5},
"transform": [{"filter": "datum.m == 11"}, {"window": [{"op": "row_number", "as": "i"}]}],
"encoding": {
"x": {"field": "p", "type": "quantitative", "scale": {"domain": [0.6, 11.4], "nice": false, "zero": false}, "axis": {"values": [1,2,3,4,5,6,7,8,9,10,11], "format": "d", "title": null}},
"order": {"field": "i", "type": "quantitative"},
"color": {"field": "a", "type": "nominal", "legend": null, "scale": {"domain": ["A","C","D","E","F","G","H","I","K","L","M","N","P","Q","R","S","T","V","W","Y"], "range": ["#195097","#b03c8c","#662175","#662175","#195097","#8a7d00","#0f7068","#195097","#c01420","#195097","#195097","#37b337","#8a7d00","#37b337","#c01420","#37b337","#37b337","#195097","#195097","#0f7068"]}}
},
"layer": [
{"mark": {"type": "bar", "width": 54.7},
 "encoding": {
 "y": {"field": "f", "type": "quantitative", "stack": "zero", "scale": {"domain": [0, 1], "nice": false}, "axis": {"values": [0,0.2,0.4,0.6,0.8,1], "format": ".1f", "title": null}},
 "opacity": {"field": "f", "type": "quantitative", "legend": null, "scale": {"domain": [0, 0.08, 0.2, 0.5], "range": [0, 0.04, 0.035, 0.12], "clamp": true}}}},
{"mark": {"type": "text", "font": "DejaVu Sans", "fontWeight": "bold", "align": "center", "baseline": "middle"},
 "encoding": {
 "y": {"field": "f", "type": "quantitative", "stack": "zero", "bandPosition": 0.42, "scale": {"domain": [0, 1], "nice": false}, "axis": {"values": [0,0.2,0.4,0.6,0.8,1], "format": ".1f", "title": null}},
 "text": {"field": "a"},
 "opacity": {"field": "f", "type": "quantitative", "legend": null, "scale": {"domain": [0, 1], "range": [0, 1]}},
 "size": {"field": "f", "type": "quantitative", "legend": null, "scale": {"domain": [0, 0.22], "range": [0, 59.4], "clamp": true}}}}
],
"resolve": {"scale": {"opacity": "independent"}}
}
],
"config": {
"view": {"stroke": null},
"font": "DejaVu Sans",
"title": {"font": "DejaVu Sans", "fontSize": 16.7, "fontWeight": "normal", "color": "black"},
"axis": {"grid": false, "domainColor": "black", "domainWidth": 1.1, "tickColor": "black", "tickWidth": 1.1, "tickSize": 4.9, "labelPadding": 3.5, "labelColor": "black", "labelFont": "DejaVu Sans", "labelFontSize": 13.9, "labelAngle": 0}
}
}
